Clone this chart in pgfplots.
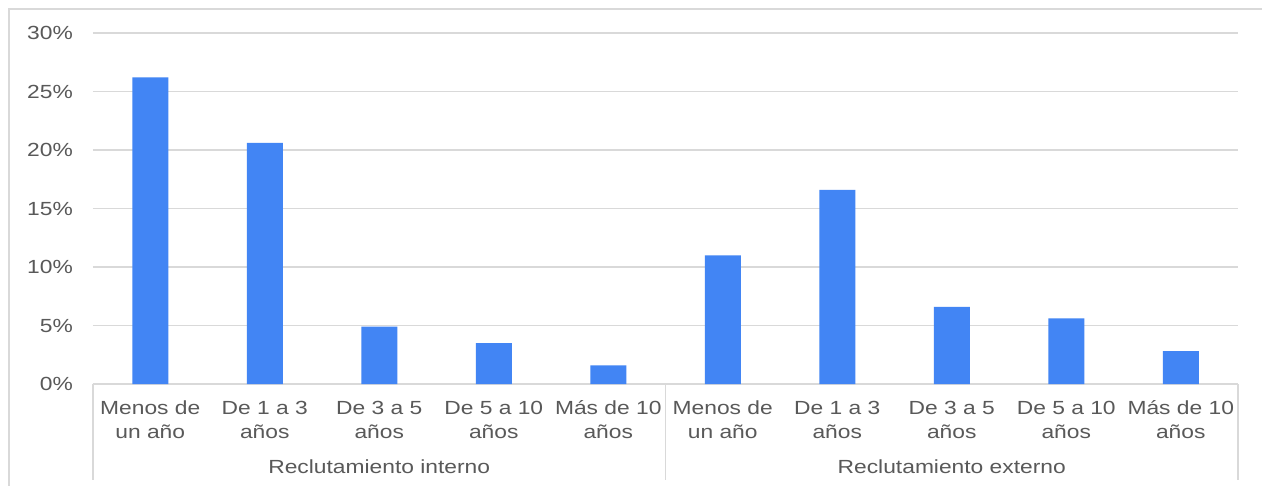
\documentclass[border=0pt]{standalone}
\usepackage{pgfplots}
\pgfplotsset{compat=1.18}
\usepackage{fontspec}
\setmainfont{Liberation Sans}[FakeStretch=1.2]
\definecolor{barblue}{HTML}{4285F4}
\definecolor{gridgray}{HTML}{D9D9D9}
\definecolor{txtgray}{HTML}{595959}
\newcommand\st{\rule{0pt}{18pt}}
\begin{document}
\begin{tikzpicture}[x=1pt,y=1pt]
\useasboundingbox (0,0) rectangle (1262,-485);
\fill[white] (0,0) rectangle (1262,-485);
\draw[gridgray, line width=1.8pt] (9,-500) -- (9,-9) -- (1275,-9);
\begin{axis}[
  at={(93pt,-384pt)}, anchor=south west,
  scale only axis, width=1145pt, height=351pt,
  xmin=-0.5, xmax=9.5, ymin=0, ymax=30,
  ybar, bar width=36pt,
  axis x line=bottom, axis y line=left,
  x axis line style={gridgray, line width=1.5pt, -},
  y axis line style={draw=none},
  major tick length=0pt,
  ymajorgrids, grid style={gridgray, line width=1.5pt},
  ytick={0,5,10,15,20,25,30},
  yticklabels={0\%,5\%,10\%,15\%,20\%,25\%,30\%},
  xtick={0,1,2,3,4,5,6,7,8,9},
  xticklabels={\st Menos de\\un año, \st De 1 a 3\\años, \st De 3 a 5\\años, \st De 5 a 10\\años, \st Más de 10\\años,
               \st Menos de\\un año, \st De 1 a 3\\años, \st De 3 a 5\\años, \st De 5 a 10\\años, \st Más de 10\\años},
  xticklabel style={align=center, font=\fontsize{19}{24}\selectfont, text=txtgray, inner sep=0pt, anchor=north, yshift=-12pt},
  yticklabel style={font=\fontsize{19}{24}\selectfont, text=txtgray, inner sep=0pt, anchor=east, xshift=-20pt},
  /pgf/number format/assume math mode=true,
  clip=false,
]
\addplot[fill=barblue, draw=none] coordinates {
  (0,26.2) (1,20.6) (2,4.9) (3,3.5) (4,1.6)
  (5,11.0) (6,16.6) (7,6.6) (8,5.6) (9,2.8)
};
\draw[gridgray, line width=1.5pt] (axis cs:-0.5,0) -- ++(0pt,-96pt);
\draw[gridgray, line width=1.5pt] (axis cs:4.5,0) -- ++(0pt,-96pt);
\draw[gridgray, line width=1.5pt] (axis cs:9.5,0) -- ++(0pt,-96pt);
\node[font=\fontsize{19}{24}\selectfont, text=txtgray] at (axis cs:2,0) [yshift=-83pt] {Reclutamiento interno};
\node[font=\fontsize{19}{24}\selectfont, text=txtgray] at (axis cs:7,0) [yshift=-83pt] {Reclutamiento externo};
\end{axis}
\end{tikzpicture}
\end{document}
